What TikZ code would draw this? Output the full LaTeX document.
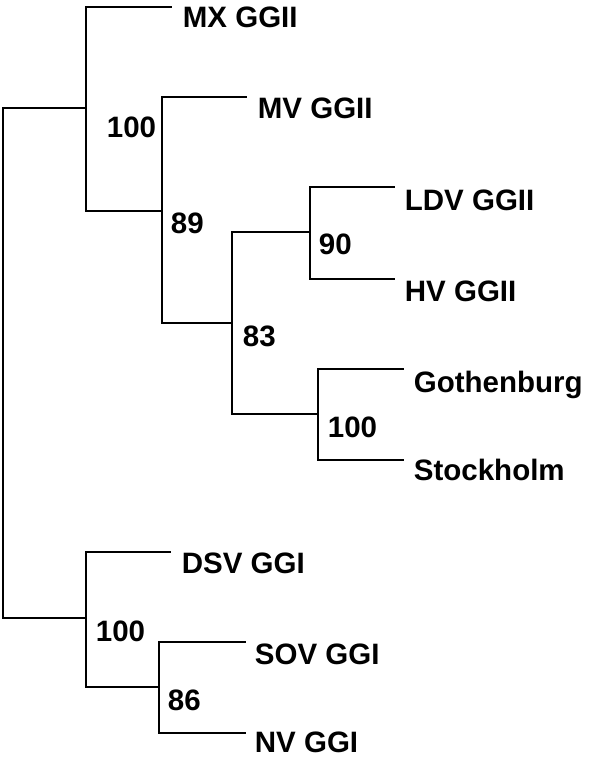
\documentclass[tikz,border=0pt]{standalone}
\usepackage{fontspec}
\setmainfont{Liberation Sans}

\begin{document}
\begin{tikzpicture}[x=1pt, y=-1pt, line width=1.8pt,
    taxon/.style={anchor=base west, inner sep=0pt, font=\fontsize{29.5}{35}\selectfont\bfseries},
    boot/.style={anchor=base west, inner sep=0pt, font=\fontsize{29.5}{35}\selectfont\bfseries}]
    \useasboundingbox (0,0) rectangle (600,773);

    % internal nodes
    \coordinate (root) at (3,363);
    \coordinate (GII) at (86,108);
    \coordinate (N89) at (162,211);
    \coordinate (N83) at (232,323);
    \coordinate (N90) at (310,232);
    \coordinate (SWE) at (318,414);
    \coordinate (GI) at (86,618);
    \coordinate (N86) at (159,687);

    % tips
    \coordinate (mx) at (172,7);
    \coordinate (mv) at (247,97);
    \coordinate (ldv) at (395,187);
    \coordinate (hv) at (395,279);
    \coordinate (got) at (404,369);
    \coordinate (sto) at (404,460);
    \coordinate (dsv) at (171,552);
    \coordinate (sov) at (246,642);
    \coordinate (nv) at (246,733);

    \node[taxon] (MX) at ([xshift=10pt,yshift=-21pt]mx) {MX GGII};
    \node[taxon] (MV) at ([xshift=10pt,yshift=-21pt]mv) {MV GGII};
    \node[taxon] (LDV) at ([xshift=9pt,yshift=-23pt]ldv) {LDV GGII};
    \node[taxon] (HV) at ([xshift=9pt,yshift=-22pt]hv) {HV GGII};
    \node[taxon] (GOT) at ([xshift=9pt,yshift=-23pt]got) {Gothenburg};
    \node[taxon] (STO) at ([xshift=9pt,yshift=-20pt]sto) {Stockholm};
    \node[taxon] (DSV) at ([xshift=10pt,yshift=-21pt]dsv) {DSV GGI};
    \node[taxon] (SOV) at ([xshift=8pt,yshift=-22pt]sov) {SOV GGI};
    \node[taxon] (NV) at ([xshift=8pt,yshift=-19pt]nv) {NV GGI};

    % bootstrap values
    \node[boot] (bGII) at ([xshift=20pt,yshift=-29pt]GII) {100};
    \node[boot] (b89) at ([xshift=8pt,yshift=-22pt]N89) {89};
    \node[boot] (b83) at ([xshift=10pt,yshift=-23pt]N83) {83};
    \node[boot] (b90) at ([xshift=8pt,yshift=-22pt]N90) {90};
    \node[boot] (bSWE) at ([xshift=9pt,yshift=-23pt]SWE) {100};
    \node[boot] (bGI) at ([xshift=9pt,yshift=-23pt]GI) {100};
    \node[boot] (b86) at ([xshift=8pt,yshift=-23pt]N86) {86};

    \draw (root) |- (GII);
    \draw (root) |- (GI);
    \draw (GII) |- (mx);
    \draw (GII) |- (N89);
    \draw (N89) |- (mv);
    \draw (N89) |- (N83);
    \draw (N83) |- (N90);
    \draw (N83) |- (SWE);
    \draw (N90) |- (ldv);
    \draw (N90) |- (hv);
    \draw (SWE) |- (got);
    \draw (SWE) |- (sto);
    \draw (GI) |- (dsv);
    \draw (GI) |- (N86);
    \draw (N86) |- (sov);
    \draw (N86) |- (nv);
\end{tikzpicture}
\end{document}
